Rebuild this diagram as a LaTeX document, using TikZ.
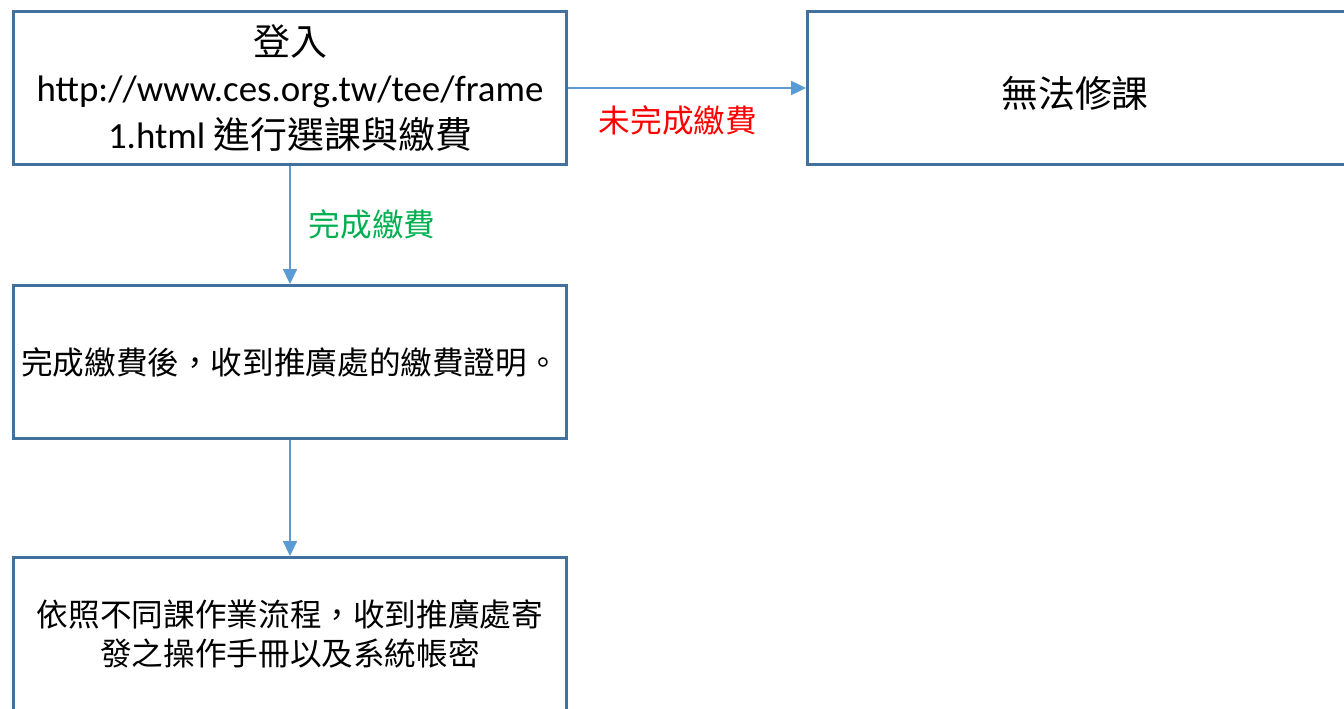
\documentclass[tikz,border=0pt]{standalone}
\usepackage{fontspec}
\setmainfont{Carlito}
\newfontfamily\cjk{Noto Sans CJK TC}
\usepackage{tikz}
\usetikzlibrary{positioning,%
  arrows.meta,%
  calc
}
\definecolor{boxline}{HTML}{41719C}
\definecolor{flowline}{HTML}{5B9BD5}
\definecolor{paidgreen}{HTML}{00B050}

\tikzset{
  stepbox/.style={draw=boxline, line width=1.7pt, rectangle, fill=white,
    minimum width=11.06cm, minimum height=3.06cm, inner sep=0pt,
    align=center, font=\fontsize{18pt}{22.7pt}\selectfont},
  bigbox/.style={stepbox, font=\fontsize{21pt}{26.6pt}\selectfont},
  flow/.style={draw=flowline, line width=0.9pt,
    -{Triangle[length=8.5pt,width=8pt]}},
  flowlabel/.style={inner sep=0pt, font=\fontsize{18pt}{22pt}\selectfont\cjk}
}

\begin{document}
\begin{tikzpicture}[x=0.02cm,y=-0.02cm]
            \useasboundingbox (0,0) rectangle (1344,709);
            \clip (0,0) rectangle (1344,709);

            % boxes
            \node[bigbox] (login) at (290,88) {{\cjk 登入}\\http://www.ces.org.tw/tee/frame\\1.html {\cjk 進行選課與繳費}};
            \node[bigbox] (nocourse) at (1084,88) {\hspace*{-0.36cm}\raisebox{-0.4cm}[0pt][0pt]{\cjk 無法修課}};
            \node[stepbox] (receipt) at (290,362) {\cjk 完成繳費後，收到推廣處的繳費證明。};
            \node[stepbox] (manual) at (290,634) {\cjk 依照不同課作業流程，收到推廣處寄\\\cjk 發之操作手冊以及系統帳密};

            % connectors
            \draw[flow] (login.east) -- (nocourse.west);
            \draw[flow] (login.south) -- (receipt.north);
            \draw[flow] (receipt.south) -- (manual.north);

            \node[flowlabel, text=red] (unpaid) at (678,120) {未完成繳費};
            \node[flowlabel, text=paidgreen] (paid) at (372,224) {完成繳費};
        \end{tikzpicture}
\end{document}
